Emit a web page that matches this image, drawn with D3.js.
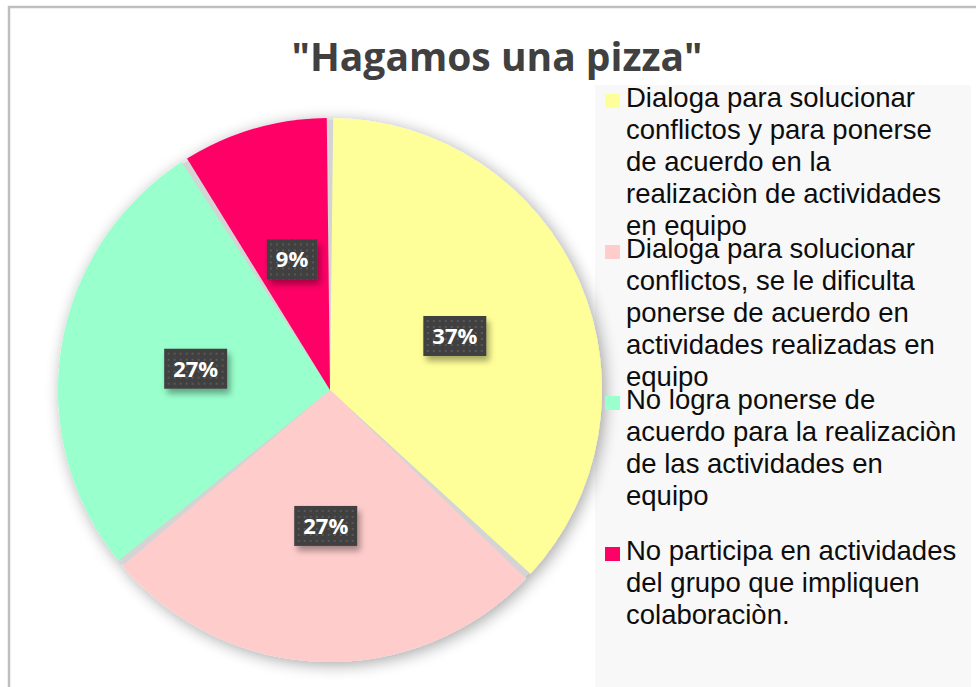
<!DOCTYPE html>
<html>
<head>
<meta charset="utf-8">
<script src="https://cdn.jsdelivr.net/npm/d3@7"></script>
<style>
  body { margin: 0; background: #fff; }
  svg { display: block; }
</style>
</head>
<body>
<svg width="976" height="687"></svg>
<script>
var categories = [
  "Dialoga para solucionar conflictos y para ponerse de acuerdo en la realizaciòn de actividades en equipo",
  "Dialoga para solucionar conflictos, se le dificulta ponerse de acuerdo en actividades realizadas en equipo",
  "No logra ponerse de acuerdo para la realizaciòn de las actividades en equipo",
  "No participa en actividades del grupo que impliquen colaboraciòn."
];
// legend lines as they wrap in the original
var legendLines = [
  ["Dialoga para solucionar", "conflictos y para ponerse", "de acuerdo en la", "realizaciòn de actividades", "en equipo"],
  ["Dialoga para solucionar", "conflictos, se le dificulta", "ponerse de acuerdo en", "actividades realizadas en", "equipo"],
  ["No logra ponerse de", "acuerdo para la realizaciòn", "de las actividades en", "equipo"],
  ["No participa en actividades", "del grupo que impliquen", "colaboraciòn."]
];
var values = [37, 27, 27, 9];
var colors = ["#ffff99", "#ffcccc", "#99ffcc", "#ff0066"];
var title = "\"Hagamos una pizza\"";

var svg = d3.select("svg"),
    width = +svg.attr("width"),
    height = +svg.attr("height");

var cx = 330, cy = 390, radius = 272;

var defs = svg.append("defs");

var shadow = defs.append("filter").attr("id", "shadow")
    .attr("x", "-20%").attr("y", "-20%").attr("width", "140%").attr("height", "140%");
shadow.append("feGaussianBlur").attr("in", "SourceAlpha").attr("stdDeviation", 8).attr("result", "b");
shadow.append("feOffset").attr("in", "b").attr("dx", 3).attr("dy", 3).attr("result", "o");
shadow.append("feComponentTransfer").attr("in", "o").attr("result", "s")
  .append("feFuncA").attr("type", "linear").attr("slope", 0.35);
var m = shadow.append("feMerge");
m.append("feMergeNode").attr("in", "s");
m.append("feMergeNode").attr("in", "SourceGraphic");

var boxShadow = defs.append("filter").attr("id", "boxShadow")
    .attr("x", "-40%").attr("y", "-40%").attr("width", "180%").attr("height", "180%");
boxShadow.append("feDropShadow").attr("dx", 3).attr("dy", 5).attr("stdDeviation", 3)
  .attr("flood-color", "#000").attr("flood-opacity", 0.35);

var dots = defs.append("pattern").attr("id", "dots")
    .attr("width", 6).attr("height", 6).attr("patternUnits", "userSpaceOnUse");
dots.append("rect").attr("width", 6).attr("height", 6).attr("fill", "#404040");
dots.append("rect").attr("x", 2).attr("y", 2).attr("width", 2).attr("height", 2).attr("fill", "#585858");

// frame
svg.append("rect")
  .attr("x", 9).attr("y", 7)
  .attr("width", width + 20).attr("height", height + 20)
  .attr("fill", "#fff")
  .attr("stroke", "#bfbfbf").attr("stroke-width", 2.5);

// legend background
svg.append("rect")
  .attr("x", 595).attr("y", 85)
  .attr("width", 376).attr("height", height - 85 + 10)
  .attr("fill", "#f8f8f8");

// title
svg.append("text")
  .attr("x", 497).attr("y", 71)
  .attr("text-anchor", "middle")
  .attr("font-family", "'Open Sans', sans-serif")
  .attr("font-weight", "bold")
  .attr("font-size", 39)
  .attr("fill", "#404040")
  .text(title);

var pie = d3.pie().sort(null).value(function(d) { return d; });
var arcs = pie(values);

var arc = d3.arc().innerRadius(0).outerRadius(radius)
    .padAngle(0.024).padRadius(radius);
var labelArc = d3.arc().innerRadius(radius * 0.5).outerRadius(radius * 0.5);

var g = svg.append("g").attr("transform", "translate(" + cx + "," + cy + ")");

var pieG = g.append("g").attr("filter", "url(#shadow)");
pieG.append("circle").attr("r", radius - 2).attr("fill", "#d4d4d4");
pieG.selectAll("path")
  .data(arcs)
  .enter().append("path")
  .attr("d", arc)
  .attr("fill", function(d, i) { return colors[i]; });

var total = d3.sum(values);
var labels = g.selectAll(".lbl")
  .data(arcs)
  .enter().append("g")
  .attr("class", "lbl")
  .attr("transform", function(d) { return "translate(" + labelArc.centroid(d) + ")"; });

labels.each(function(d) {
  var sel = d3.select(this);
  var txt = Math.round(d.value / total * 100) + "%";
  var t = sel.append("text")
    .attr("text-anchor", "middle")
    .attr("dy", "0.36em")
    .attr("font-family", "'Open Sans', sans-serif")
    .attr("font-weight", "bold")
    .attr("font-size", 22)
    .attr("fill", "#fff")
    .text(txt);
  var w = t.node().getComputedTextLength() + 18;
  sel.insert("rect", "text")
    .attr("x", -w / 2).attr("y", -20)
    .attr("width", w).attr("height", 40)
    .attr("fill", "url(#dots)")
    .attr("filter", "url(#boxShadow)");
});

// legend
var ly = d3.scaleLinear().domain([0, 1]).range([107, 258]);
var lineH = 32;
var leg = svg.selectAll(".leg")
  .data(categories)
  .enter().append("g")
  .attr("class", "leg")
  .attr("transform", function(d, i) { return "translate(605," + ly(i) + ")"; });

leg.append("rect")
  .attr("x", 0).attr("y", -13)
  .attr("width", 15).attr("height", 14)
  .attr("fill", function(d, i) { return colors[i]; });

leg.append("text")
  .attr("x", 21)
  .attr("font-family", "'Liberation Sans', Arial, sans-serif")
  .attr("font-size", 27.5)
  .attr("fill", "#0d0d0d")
  .selectAll("tspan")
  .data(function(d, i) { return legendLines[i]; })
  .enter().append("tspan")
  .attr("x", 21)
  .attr("y", function(d, j) { return j * lineH; })
  .text(function(d) { return d; });
</script>
</body>
</html>
